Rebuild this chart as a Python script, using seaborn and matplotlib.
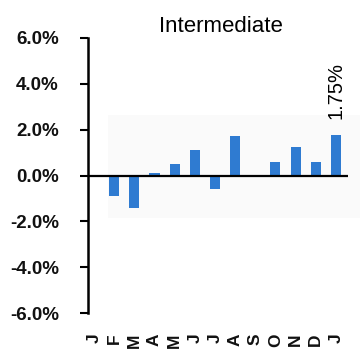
import matplotlib
matplotlib.use("Agg")
import matplotlib.pyplot as plt
import seaborn as sns
import pandas as pd
from matplotlib.patches import Rectangle

# Monthly returns (%), January through the following January
months = ["J", "F", "M", "A", "M", "J", "J", "A", "S", "O", "N", "D", "J"]
returns = [-0.05, -0.90, -1.42, 0.11, 0.50, 1.12, -0.58, 1.74, 0.0, 0.60, 1.25, 0.60, 1.75]
ytick_values = [-6, -4, -2, 0, 2, 4, 6]
title = "Intermediate"
labelled_bar = 12

sns.set_theme(style="white")
plt.rcParams["font.family"] = ["Liberation Sans", "DejaVu Sans"]

fig = plt.figure(figsize=(3.6, 3.59), dpi=100)
ax = fig.add_axes([88 / 360, 1 - 313 / 359, (348 - 88) / 360, (313 - 38) / 359])
ax.patch.set_alpha(0)

# faint panel behind the bars
fig.patches.append(Rectangle((108 / 360, 1 - 218 / 359), 252 / 360, 103 / 359,
                             transform=fig.transFigure, facecolor="#fafafa",
                             edgecolor="none", zorder=-1))

df = pd.DataFrame({"pos": range(len(months)), "ret": returns})
sns.barplot(data=df, x="pos", y="ret", color="#2f7bd1", saturation=1,
            width=0.5, linewidth=0, ax=ax)

ax.set_xlim(-0.3, 12.6)
ax.set_ylim(-6, 6)
ax.axhline(0, color="black", lw=1.6, zorder=3)

for side in ("top", "right", "bottom"):
    ax.spines[side].set_visible(False)
ax.spines["left"].set_color("black")
ax.spines["left"].set_linewidth(1.8)

ax.set_yticks(ytick_values)
ax.set_yticklabels([f"{v:.1f}%" for v in ytick_values], fontweight="bold")
ax.tick_params(axis="y", left=True, length=6, width=1.5, color="black",
               pad=15, labelsize=13.5, labelcolor="#111111")
ax.set_xticks(range(len(months)))
ax.set_xticklabels(months, rotation=90, fontweight="bold")
ax.tick_params(axis="x", bottom=False, length=0, pad=15, labelsize=12.5,
               labelcolor="#111111")
ax.set_xlabel("")
ax.set_ylabel("")

ax.annotate(f"{returns[labelled_bar]:.2f}%", xy=(labelled_bar, returns[labelled_bar]),
            xytext=(0, 12), textcoords="offset points", rotation=90,
            ha="center", va="bottom", fontsize=14.5, color="black")

fig.text(221 / 360, 1 - 27 / 359, title, ha="center", va="center",
         fontsize=16, color="black")

fig.savefig("out.png", dpi=100)
